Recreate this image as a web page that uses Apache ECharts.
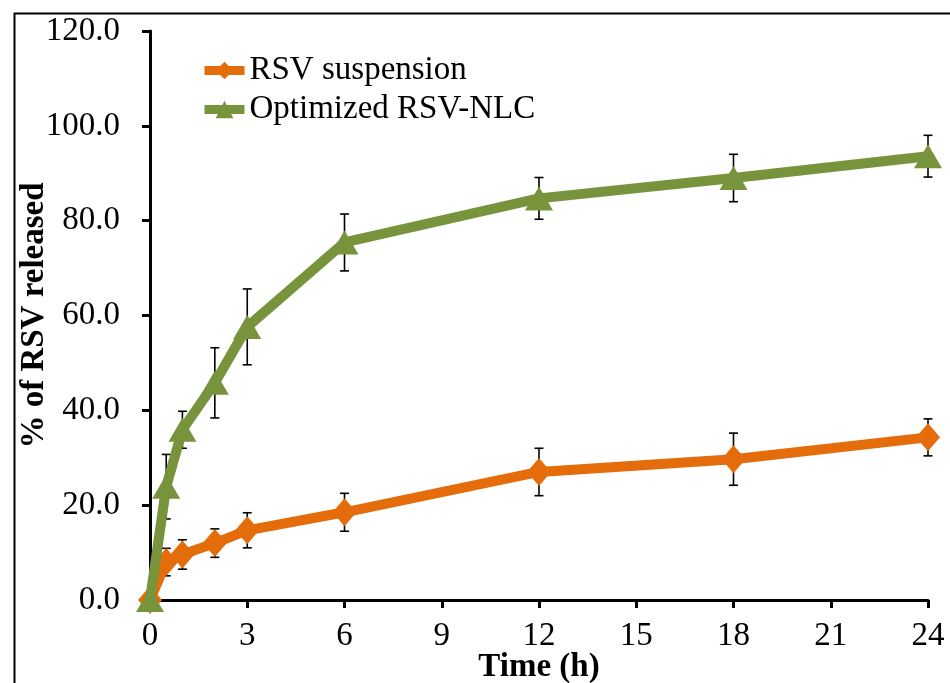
<!DOCTYPE html>
<html>
<head>
<meta charset="utf-8">
<script src="https://cdn.jsdelivr.net/npm/echarts@6/dist/echarts.min.js"></script>
<style>html,body{margin:0;padding:0;background:#fff}#chart{width:950px;height:683px}</style>
</head>
<body>
<div id="chart"></div>
<script>
const timeH = [0, 0.5, 1, 2, 3, 6, 12, 18, 24];
const suspensionMean = [0, 8.0, 9.6, 12.0, 14.7, 18.5, 27.0, 29.7, 34.3];
const suspensionSD = [0, 2.9, 3.1, 3.0, 3.7, 4.0, 5.0, 5.5, 3.9];
const nlcMean = [0, 23.9, 35.9, 45.8, 57.6, 75.4, 84.7, 89.0, 93.6];
const nlcSD = [0, 6.8, 3.9, 7.4, 8.0, 6.0, 4.4, 5.0, 4.4];
const seriesNames = ['RSV suspension', 'Optimized RSV-NLC'];
const xTicks = [0, 3, 6, 9, 12, 15, 18, 21, 24];
const yTicks = [0, 20, 40, 60, 80, 100, 120];

const FONT = '"Liberation Serif", "Times New Roman", serif';
const ORANGE = '#E46C0A';
const GREEN = '#77933C';

function pts(xs, ys) { return xs.map((x, i) => [x, ys[i]]); }
function errData(xs, ys, sd) { return xs.map((x, i) => [x, ys[i] - sd[i], ys[i] + sd[i]]).filter((d, i) => sd[i] > 0); }

function renderErr(params, api) {
  const x = api.value(0);
  const lo = api.coord([x, api.value(1)]);
  const hi = api.coord([x, api.value(2)]);
  const cap = 4.5;
  const style = { stroke: '#000', lineWidth: 1.6 };
  return {
    type: 'group',
    children: [
      { type: 'line', shape: { x1: lo[0], y1: lo[1], x2: hi[0], y2: hi[1] }, style },
      { type: 'line', shape: { x1: lo[0] - cap, y1: lo[1], x2: lo[0] + cap, y2: lo[1] }, style },
      { type: 'line', shape: { x1: hi[0] - cap, y1: hi[1], x2: hi[0] + cap, y2: hi[1] }, style }
    ]
  };
}

const chart = echarts.init(document.getElementById('chart'), null, { renderer: 'canvas' });
chart.setOption({
  animation: false,
  backgroundColor: '#fff',
  textStyle: { fontFamily: FONT },
  graphic: [{
    type: 'rect', left: 12, top: 11, z: 100,
    shape: { width: 1000, height: 1000 },
    style: { fill: 'none', stroke: '#000', lineWidth: 2 }
  }],
  grid: { left: 150, right: 22, top: 31, bottom: 83, containLabel: false, outerBoundsMode: 'none' },
  legend: {
    orient: 'vertical', left: 195, top: 49, itemGap: 6,
    itemWidth: 40, itemHeight: 22,
    data: [
      { name: seriesNames[0], itemStyle: { color: ORANGE }, lineStyle: { color: ORANGE, width: 9 } },
      { name: seriesNames[1], itemStyle: { color: GREEN }, lineStyle: { color: GREEN, width: 9 } }
    ],
    textStyle: { fontFamily: FONT, fontSize: 33, color: '#000' }
  },
  xAxis: {
    type: 'value', min: xTicks[0], max: xTicks[xTicks.length - 1], interval: 3,
    name: 'Time (h)', nameLocation: 'middle', nameGap: 51, nameMoveOverlap: false,
    nameTextStyle: { fontFamily: FONT, fontSize: 33, fontWeight: 'bold', color: '#000' },
    axisLine: { lineStyle: { color: '#000', width: 3 } },
    axisTick: { show: true, length: 8, lineStyle: { color: '#000', width: 3 } },
    axisLabel: { margin: 20, fontFamily: FONT, fontSize: 33, color: '#000' },
    splitLine: { show: false }
  },
  yAxis: {
    type: 'value', min: yTicks[0], max: yTicks[yTicks.length - 1], interval: 20,
    name: '% of RSV released', nameLocation: 'middle', nameGap: 99, nameMoveOverlap: false,
    nameTextStyle: { fontFamily: FONT, fontSize: 33, fontWeight: 'bold', color: '#000' },
    axisLine: { show: true, lineStyle: { color: '#000', width: 3 } },
    axisTick: { show: true, length: 8, lineStyle: { color: '#000', width: 3 } },
    axisLabel: { margin: 30, fontFamily: FONT, fontSize: 33, color: '#000', formatter: v => v.toFixed(1) },
    splitLine: { show: false }
  },
  series: [
    {
      type: 'custom', name: 'sdSusp', renderItem: renderErr, z: 1,
      data: errData(timeH, suspensionMean, suspensionSD), encode: { x: 0, y: [1, 2] }, silent: true
    },
    {
      type: 'custom', name: 'sdNlc', renderItem: renderErr, z: 1,
      data: errData(timeH, nlcMean, nlcSD), encode: { x: 0, y: [1, 2] }, silent: true
    },
    {
      type: 'line', name: seriesNames[0], data: pts(timeH, suspensionMean), z: 3,
      symbol: 'diamond', symbolSize: [24, 28], showAllSymbol: true,
      lineStyle: { color: ORANGE, width: 10 }, itemStyle: { color: ORANGE }
    },
    {
      type: 'line', name: seriesNames[1], data: pts(timeH, nlcMean), z: 4,
      symbol: 'triangle', symbolSize: [28, 24], showAllSymbol: true,
      lineStyle: { color: GREEN, width: 10 }, itemStyle: { color: GREEN }
    }
  ]
});
</script>
</body>
</html>
